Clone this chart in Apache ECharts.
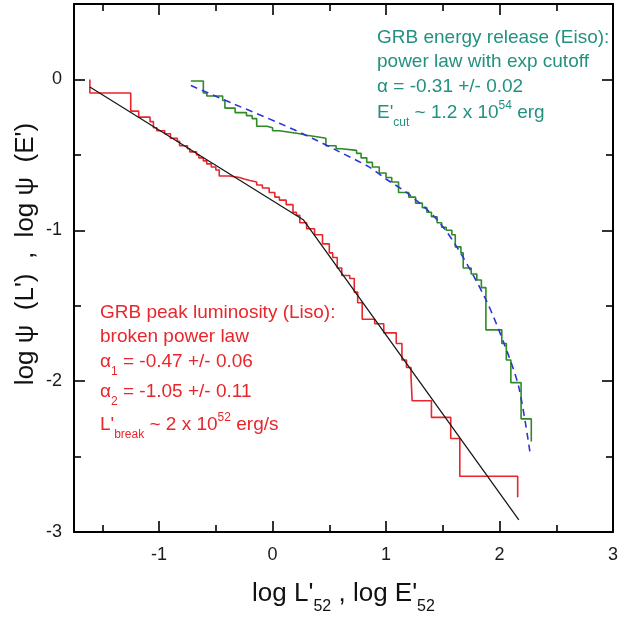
<!DOCTYPE html>
<html>
<head>
<meta charset="utf-8">
<script src="https://cdn.jsdelivr.net/npm/echarts@6/dist/echarts.min.js"></script>
<style>
  html, body { margin: 0; padding: 0; background: #ffffff; }
  #chart { width: 621px; height: 622px; }
</style>
</head>
<body>
<div id="chart"></div>
<script>
const FONT = '"Liberation Sans", Arial, Helvetica, sans-serif';

// Axis ticks
const xTicks = [-1, 0, 1, 2, 3];
const xMinorTicks = [-1.5, -0.5, 0.5, 1.5, 2.5];
const yTicks = [-3, -2, -1, 0];
const yMinorTicks = [-2.5, -1.5, -0.5];

// Cumulative distribution of peak luminosity: [log L'52, log psi]
const lumSteps = [
  [-1.61, 0.00], [-1.61, -0.09], [-1.25, -0.21], [-1.18, -0.25], [-1.08, -0.28],
  [-1.05, -0.32], [-1.02, -0.34], [-0.95, -0.36], [-0.90, -0.39], [-0.84, -0.41],
  [-0.82, -0.44], [-0.75, -0.46], [-0.73, -0.48], [-0.67, -0.50], [-0.65, -0.52],
  [-0.61, -0.54], [-0.58, -0.56], [-0.54, -0.58], [-0.50, -0.60], [-0.47, -0.64],
  [-0.38, -0.65], [-0.29, -0.66], [-0.25, -0.67], [-0.20, -0.68], [-0.14, -0.70],
  [-0.09, -0.72], [-0.03, -0.75], [0.02, -0.78], [0.06, -0.80], [0.12, -0.83],
  [0.18, -0.88], [0.21, -0.90], [0.24, -0.95], [0.30, -0.99], [0.37, -1.03],
  [0.44, -1.09], [0.50, -1.15], [0.53, -1.18], [0.57, -1.25], [0.61, -1.30],
  [0.68, -1.32], [0.72, -1.41], [0.75, -1.48], [0.79, -1.59], [0.90, -1.62],
  [0.98, -1.68], [1.09, -1.75], [1.14, -1.86], [1.18, -1.91], [1.22, -1.97],
  [1.23, -2.13], [1.40, -2.24], [1.57, -2.38], [1.65, -2.63], [2.16, -2.77]
];

// Broken power law fit to the luminosity function
const lumFit = [[-1.61, -0.05], [0.27, -0.93], [2.17, -2.92]];

// Cumulative distribution of isotropic energy: [log E'52, log psi]
const energySteps = [
  [-0.72, -0.01], [-0.61, -0.09], [-0.58, -0.11], [-0.44, -0.14], [-0.42, -0.19],
  [-0.33, -0.22], [-0.23, -0.24], [-0.18, -0.26], [-0.14, -0.31], [-0.05, -0.32],
  [0.00, -0.34], [0.06, -0.35], [0.15, -0.36], [0.24, -0.37], [0.30, -0.38],
  [0.39, -0.39], [0.47, -0.44], [0.56, -0.46], [0.61, -0.47], [0.74, -0.49],
  [0.78, -0.52], [0.83, -0.55], [0.88, -0.58], [0.94, -0.62], [1.00, -0.65],
  [1.05, -0.68], [1.11, -0.75], [1.20, -0.78], [1.26, -0.82], [1.32, -0.85],
  [1.36, -0.88], [1.40, -0.91], [1.45, -0.95], [1.49, -0.98], [1.53, -1.00],
  [1.58, -1.03], [1.61, -1.11], [1.66, -1.15], [1.68, -1.25], [1.75, -1.29],
  [1.80, -1.33], [1.84, -1.38], [1.88, -1.66], [2.02, -1.75], [2.06, -1.86],
  [2.10, -2.01], [2.19, -2.25], [2.28, -2.40]
];

// Power law with exponential cutoff fit to the energy function
const energyFit = [
  [-0.72, -0.04], [-0.35, -0.16], [0.06, -0.29], [0.35, -0.39], [0.59, -0.48],
  [0.85, -0.58], [1.00, -0.66], [1.20, -0.76], [1.45, -0.93], [1.64, -1.13],
  [1.88, -1.46], [2.05, -1.77], [2.17, -2.04], [2.27, -2.48]
];

const X_MIN = -1.75, X_MAX = 3, Y_MIN = -3, Y_MAX = 0.5;
const RED = '#e8262b';
const TEAL = '#23917f';

function axis(kind, position, ticks, tickLen, main) {
  return {
    type: 'value',
    position: position,
    min: kind === 'x' ? X_MIN : Y_MIN,
    max: kind === 'x' ? X_MAX : Y_MAX,
    splitLine: { show: false },
    axisLine: { show: main, onZero: false, lineStyle: { color: '#000', width: 2 } },
    axisTick: {
      show: true, inside: true, length: tickLen, customValues: ticks,
      lineStyle: { color: '#000', width: 1.6 }
    },
    axisLabel: { show: false },
    axisPointer: { show: false }
  };
}

const xMain = axis('x', 'bottom', xTicks, 11, true);
xMain.axisLabel = {
  show: true, customValues: xTicks, fontSize: 18, color: '#1a1a1a',
  fontFamily: FONT, margin: 14
};
xMain.name = "log L'{sub|52} , log E'{sub|52}";
xMain.nameLocation = 'middle';
xMain.nameGap = 49;
xMain.nameTextStyle = {
  fontSize: 26, color: '#111', fontFamily: FONT,
  rich: { sub: { fontSize: 16, lineHeight: 16, padding: [26, 0, 0, 0], color: '#111', fontFamily: FONT } }
};

const yMain = axis('y', 'left', yTicks, 11, true);
yMain.axisLabel = {
  show: true, customValues: yTicks, fontSize: 18, color: '#1a1a1a',
  fontFamily: FONT, margin: 12
};

const option = {
  backgroundColor: '#ffffff',
  animation: false,
  grid: { left: 74, top: 4, width: 541, height: 528, containLabel: false },
  xAxis: [
    xMain,
    axis('x', 'bottom', xMinorTicks, 7, false),
    axis('x', 'top', xTicks, 11, true),
    axis('x', 'top', xMinorTicks, 7, false)
  ],
  yAxis: [
    yMain,
    axis('y', 'left', yMinorTicks, 7, false),
    axis('y', 'right', yTicks, 11, true),
    axis('y', 'right', yMinorTicks, 7, false)
  ],
  series: [
    {
      name: 'Liso', type: 'line', data: lumSteps, step: 'end',
      showSymbol: false, symbol: 'none',
      lineStyle: { color: RED, width: 1.6 }, z: 2
    },
    {
      name: 'Liso fit', type: 'line', data: lumFit,
      showSymbol: false, symbol: 'none',
      lineStyle: { color: '#1a1a1a', width: 1.3 }, z: 3
    },
    {
      name: 'Eiso', type: 'line', data: energySteps, step: 'end',
      showSymbol: false, symbol: 'none',
      lineStyle: { color: '#2e8a22', width: 1.6 }, z: 2
    },
    {
      name: 'Eiso fit', type: 'line', data: energyFit, smooth: 0.3,
      showSymbol: false, symbol: 'none',
      lineStyle: { color: '#2b36d9', width: 1.6, type: [7, 5] }, z: 3
    }
  ],
  graphic: []
};

// Annotation text blocks
const subStyle = (color) => ({ fontSize: 12, lineHeight: 12, padding: [20, 0, 0, 0], fill: color, fontFamily: FONT });
const supStyle = (color) => ({ fontSize: 12, lineHeight: 12, padding: [0, 0, 14, 0], fill: color, fontFamily: FONT });

function note(x, y, text, color) {
  return {
    type: 'text', x: x, y: y, z: 10,
    style: {
      text: text, fill: color, fontSize: 19, fontFamily: FONT,
      align: 'left', verticalAlign: 'middle',
      textAlign: 'left', textVerticalAlign: 'middle',
      rich: { sub: subStyle(color), sup: supStyle(color) }
    }
  };
}

option.graphic = [
  // vertical axis title
  {
    type: 'text', x: 26, y: 254, rotation: Math.PI / 2, z: 10,
    style: {
      text: "log \u03C8  (L')  ,  log \u03C8  (E')", fill: '#111', fontSize: 26, fontFamily: FONT,
      align: 'center', verticalAlign: 'middle',
      textAlign: 'center', textVerticalAlign: 'middle'
    }
  },
  note(377, 38, 'GRB energy release (Eiso):', TEAL),
  note(377, 62, 'power law with exp cutoff', TEAL),
  note(377, 87, '\u03B1 = -0.31 +/- 0.02', TEAL),
  note(377, 113, "E'{sub|cut} ~ 1.2 x 10{sup|54} erg", TEAL),
  note(100, 313, 'GRB peak luminosity (Liso):', RED),
  note(100, 337, 'broken power law', RED),
  note(100, 362, '\u03B1{sub|1} = -0.47 +/- 0.06', RED),
  note(100, 392, '\u03B1{sub|2} = -1.05 +/- 0.11', RED),
  note(100, 425, "L'{sub|break} ~ 2 x 10{sup|52} erg/s", RED)
];

const chart = echarts.init(document.getElementById('chart'), null, { renderer: 'canvas' });
chart.setOption(option);
</script>
</body>
</html>
